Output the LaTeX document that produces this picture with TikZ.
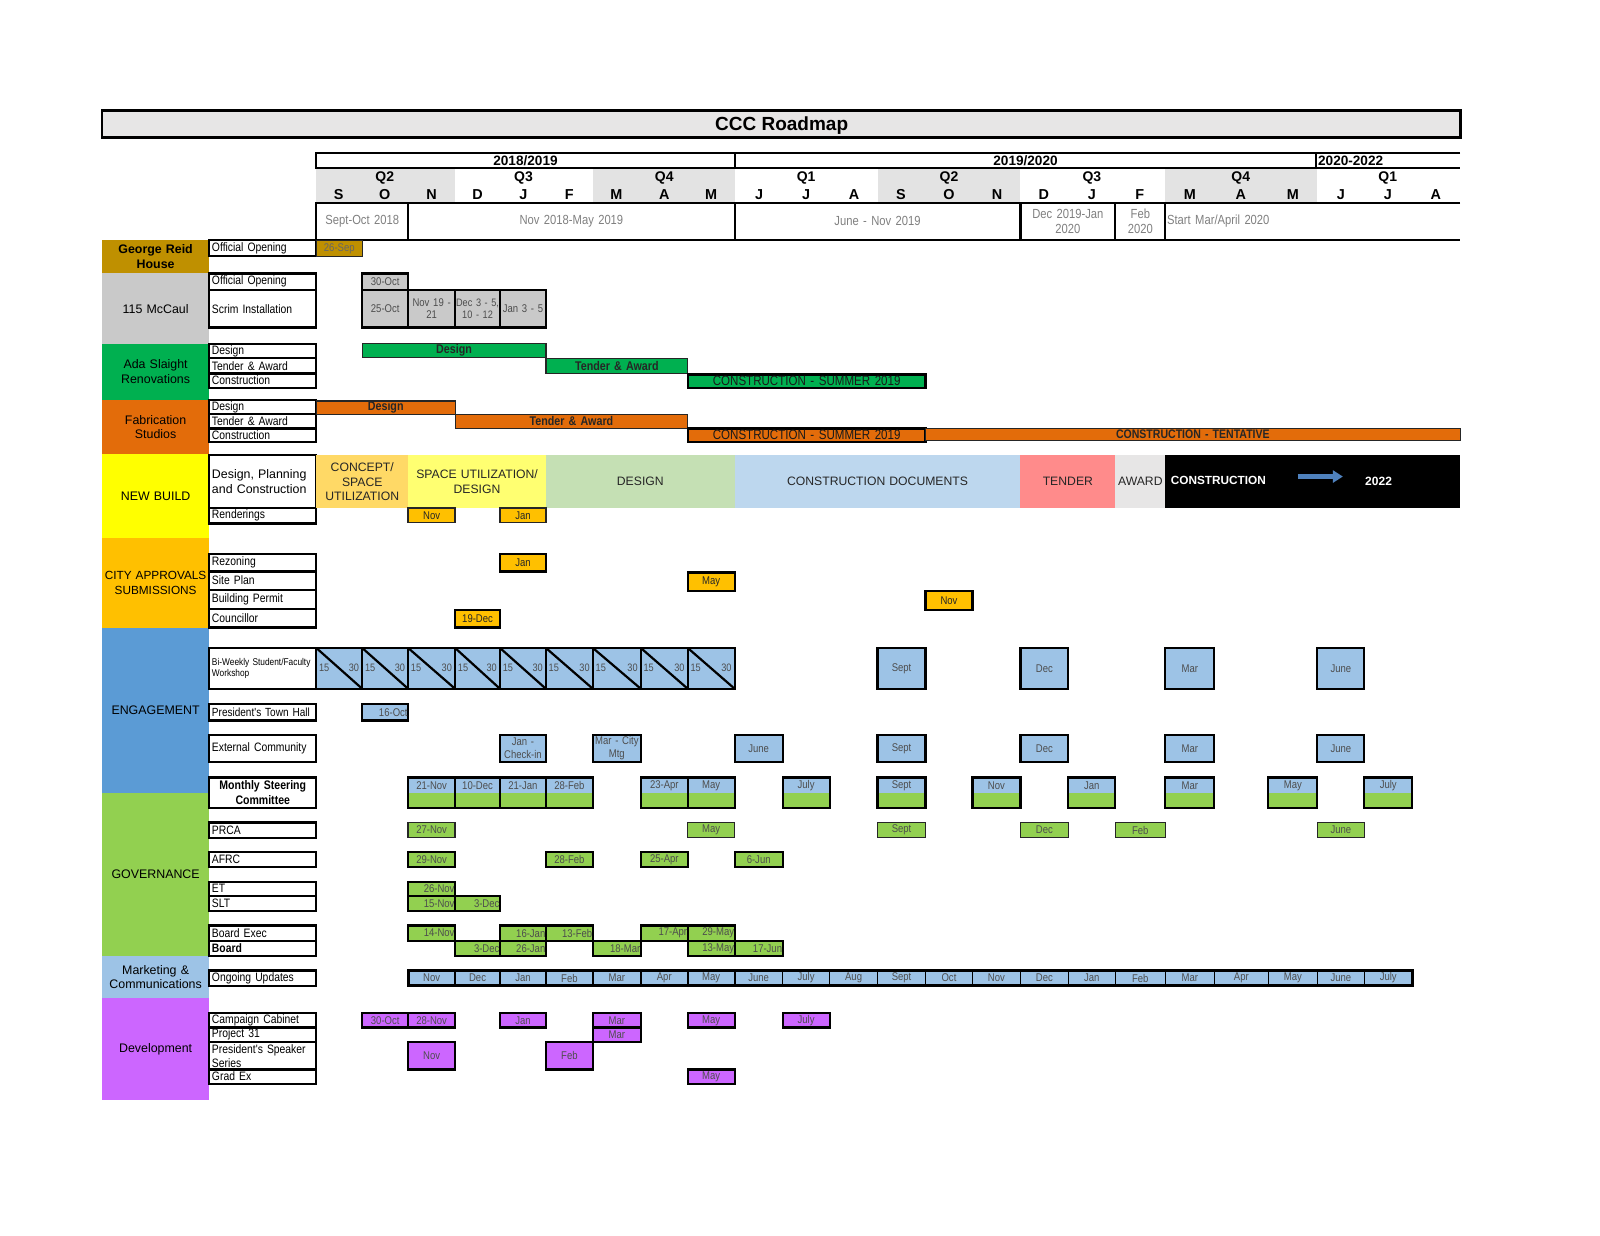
\documentclass[tikz,border=0pt]{standalone}
\usepackage{fontspec}
\setmainfont{Liberation Sans}
\newfontfamily\nar[FakeStretch=0.85]{Liberation Sans}
\usetikzlibrary{calc,arrows.meta}
\definecolor{cGold}{HTML}{BF9000}
\definecolor{cMc}{HTML}{C9C9C9}
\definecolor{cAda}{HTML}{00B050}
\definecolor{cFab}{HTML}{E36C0A}
\definecolor{cNew}{HTML}{FFFF00}
\definecolor{cCity}{HTML}{FFC000}
\definecolor{cEng}{HTML}{5B9BD5}
\definecolor{cGov}{HTML}{92D050}
\definecolor{cMkt}{HTML}{9DC3E6}
\definecolor{cDev}{HTML}{CC66FF}
\definecolor{evBlue}{HTML}{9DC3E6}
\definecolor{hdrGray}{HTML}{E7E6E6}
\definecolor{qGray}{HTML}{E3E3E3}
\definecolor{pConcept}{HTML}{FFD966}
\definecolor{pSpace}{HTML}{FFFF71}
\definecolor{pDesign}{HTML}{C5E0B4}
\definecolor{pDocs}{HTML}{BDD7EE}
\definecolor{pTender}{HTML}{FF8B8B}
\definecolor{pAward}{HTML}{E7E6E6}
\definecolor{arrBlue}{HTML}{4F81BD}
\definecolor{txtGray}{HTML}{4D4D4D}
\definecolor{phGray}{HTML}{808080}
\newcommand\cell[8][center]{%
  \pgfmathsetlengthmacro\cellW{(#4-#3)*0.5102pt}%
  \pgfmathsetlengthmacro\cellH{(#6-#5)*0.5102pt}%
  \pgfmathsetlengthmacro\cellT{(#4-#3)*0.5102pt-0.6pt}%
  \node[cb,anchor=north west,minimum width=\cellW,minimum height=\cellH,text width=\cellT,align=#1,#7] (#2) at (#3,#5) {#8};}
\newcommand\lab[5]{%
  \pgfmathsetlengthmacro\cellH{(#3-#2)*0.5102pt}%
  \node[lbl,anchor=north west,inner xsep=1.4pt,inner ysep=0pt,outer sep=0pt,minimum width=53.57pt,minimum height=\cellH,text width=50.77pt,align=left,#4] (#1) at (205,#2) {#5};}
\begin{document}
\begin{tikzpicture}[x=0.5102pt,y=-0.5102pt,
  cb/.style={inner xsep=0.3pt,inner ysep=0pt,outer sep=0pt},
  cat/.style={font=\fontsize{6.2}{7.4}\selectfont,text=black},
  lbl/.style={draw,line width=1.1pt,fill=white,font=\nar\fontsize{6.1}{7}\selectfont},
  ev/.style={draw,line width=1.1pt,text=txtGray,font=\nar\fontsize{5.6}{6.4}\selectfont},
  evt/.style={draw=black!85,line width=0.5pt,text=txtGray,font=\nar\fontsize{5.6}{6.4}\selectfont},
  evtxt/.style={text=txtGray,font=\nar\fontsize{5.6}{6.4}\selectfont,inner sep=0pt},
  bar/.style={draw=black!85,line width=0.6pt,text=black!85,font=\nar\bfseries\fontsize{6.3}{7}\selectfont},
  cons/.style={draw,line width=1.1pt,text=black!90,font=\nar\fontsize{6.8}{7.5}\selectfont},
  nb/.style={text=black!85,font=\fontsize{6.1}{7.3}\selectfont},
  hdr/.style={font=\bfseries\fontsize{7}{8}\selectfont,inner sep=0pt},
  yr/.style={draw,line width=1.1pt,font=\bfseries\fontsize{6.8}{8}\selectfont},
  ph/.style={draw,line width=1.1pt,text=phGray,font=\nar\fontsize{6.6}{7.6}\selectfont},
  steer/.style={ev,fill=cGov,path picture={\fill[evBlue] (path picture bounding box.north west) rectangle (path picture bounding box.east);}},
  wstxt/.style={text=txtGray,font=\nar\fontsize{5.4}{6}\selectfont,inner sep=0pt}
]
\fill[white] (0,0) rectangle (1568,1211);
\useasboundingbox (0,0) rectangle (1568,1211);

% ---------- title ----------
\cell{title}{100}{1431}{108}{135}{draw,line width=1.3pt,fill=hdrGray}{}
\node[font=\bfseries\fontsize{9.5}{11}\selectfont,inner sep=0pt] (titleT) at (766,123) {CCC Roadmap};

% ---------- quarter bands ----------
\cell{qb1}{310}{446}{165}{199}{fill=qGray}{}
\cell{qb2}{581}{720}{165}{199}{fill=qGray}{}
\cell{qb3}{860}{1000}{165}{199}{fill=qGray}{}
\cell{qb4}{1142}{1291}{165}{199}{fill=qGray}{}

% ---------- year row ----------
\cell{yr1}{310}{720}{150}{165}{yr}{2018/2019}
\cell{yr2}{720}{1290}{150}{165}{yr}{2019/2020}
\cell[left]{yr3}{1290}{1431}{150}{165}{yr,draw=none}{\hspace*{0.6pt}2020-2022}
\draw[line width=1.1pt] (yr3.north east) -- (yr3.north west) -- (yr3.south west) -- (yr3.south east);

% ---------- quarters and months ----------
\foreach \xq/\qq [count=\i] in {377/Q2,513/Q3,651/Q4,790/Q1,930/Q2,1070/Q3,1216/Q4,1360/Q1}{
  \node[hdr] (q\i) at (\xq,174) {\qq};
}
\foreach \xm/\mm [count=\i] in {332/S,377/O,423/N,468/D,513/J,558/F,604/M,651/A,697/M,744/J,790/J,837/A,883/S,930/O,977/N,1023/D,1070/J,1117/F,1166/M,1216/A,1267/M,1314/J,1360/J,1407/A}{
  \node[hdr,font=\bfseries\fontsize{7.2}{8}\selectfont] (m\i) at (\xm,191) {\mm};
}

% ---------- phase row ----------
\cell{ph1}{310}{400}{199}{235}{ph}{Sept-Oct 2018}
\cell{ph2}{400}{720}{199}{235}{ph}{Nov 2018-May 2019}
\cell{ph3}{720}{1000}{199}{235}{ph}{June - Nov 2019}
\cell{ph4}{1000}{1093}{199}{235}{ph}{Dec 2019-Jan\\2020}
\cell{ph5}{1093}{1142}{199}{235}{ph}{Feb\\2020}
\cell[left]{ph6}{1142}{1431}{199}{235}{ph,draw=none}{\hspace*{0.6pt}Start Mar/April 2020}
\draw[line width=1.1pt] (ph6.north east) -- (ph6.north west) -- (ph6.south west) -- (ph6.south east);

% ---------- categories ----------
\cell{catGR}{100}{205}{235}{268}{cat,fill=cGold,font=\bfseries\fontsize{6.2}{7.4}\selectfont}{George Reid\\House}
\cell{catMc}{100}{205}{268}{337}{cat,fill=cMc}{115 McCaul}
\cell{catAda}{100}{205}{337}{392}{cat,fill=cAda}{Ada Slaight\\Renovations}
\cell{catFab}{100}{205}{392}{445}{cat,fill=cFab}{Fabrication\\Studios}
\cell{catNew}{100}{205}{445}{527}{cat,fill=cNew}{NEW BUILD}
\cell{catCity}{100}{205}{527}{615}{cat,fill=cCity,font=\fontsize{5.9}{7.3}\selectfont}{CITY APPROVALS\\SUBMISSIONS}
\cell{catEng}{100}{205}{615}{777}{cat,fill=cEng}{ENGAGEMENT}
\cell{catGov}{100}{205}{777}{937}{cat,fill=cGov}{GOVERNANCE}
\cell{catMkt}{100}{205}{937}{978}{cat,fill=cMkt}{Marketing \&\\Communications}
\cell{catDev}{100}{205}{978}{1078}{cat,fill=cDev}{Development}

% ---------- row labels ----------
\lab{lGR}{235}{251}{}{Official Opening}
\lab{lMc1}{268}{284}{}{Official Opening}
\lab{lMc2}{284}{321}{}{Scrim Installation}
\lab{lAda1}{337}{351}{}{Design}
\lab{lAda2}{351}{366}{}{Tender \& Award}
\lab{lAda3}{366}{380}{}{Construction}
\lab{lFab1}{392}{406}{}{Design}
\lab{lFab2}{406}{420}{}{Tender \& Award}
\lab{lFab3}{420}{433}{}{Construction}
\lab{lNew1}{446}{498}{font=\fontsize{6.2}{7.6}\selectfont}{Design, Planning\\and Construction}
\lab{lNew2}{498}{513}{}{Renderings}
\lab{lC1}{543}{560}{}{Rezoning}
\lab{lC2}{560}{578}{}{Site Plan}
\lab{lC3}{578}{597}{}{Building Permit}
\lab{lC4}{597}{615}{}{Councillor}
\lab{lE1}{635}{675}{font=\nar\fontsize{4.9}{5.8}\selectfont}{Bi-Weekly Student/Faculty\\Workshop}
\lab{lE2}{690}{706}{font=\nar\fontsize{5.9}{7}\selectfont}{President's Town Hall}
\lab{lE3}{720}{747}{}{External Community}
\lab{lE4}{762}{792}{align=center,font=\nar\bfseries\fontsize{6.2}{7.6}\selectfont}{Monthly Steering\\Committee}
\lab{lG1}{806}{821}{}{PRCA}
\lab{lG2}{835}{850}{}{AFRC}
\lab{lG3}{864}{878}{}{ET}
\lab{lG4}{878}{893}{}{SLT}
\lab{lG5}{907}{922}{}{Board Exec}
\lab{lG6}{922}{937}{font=\nar\bfseries\fontsize{6.1}{7}\selectfont}{Board}
\lab{lM1}{951}{966}{}{Ongoing Updates}
\lab{lD1}{993}{1007}{}{Campaign Cabinet}
\lab{lD2}{1007}{1021}{}{Project 31}
\lab{lD3}{1021}{1048}{}{President's Speaker\\Series}
\lab{lD4}{1048}{1062}{}{Grad Ex}

% ---------- George Reid / McCaul ----------
\cell{eGR}{310}{355}{236}{251}{evt,fill=cGold,text=black!60}{26-Sep}
\cell{eMc1}{355}{400}{268}{284}{ev,fill=cMc}{30-Oct}
\cell{eMc2}{355}{400}{284}{321}{ev,fill=cMc}{25-Oct}
\cell{eMc3}{400}{446}{284}{321}{ev,fill=cMc}{Nov 19 -\\21}
\cell{eMc4}{446}{490}{284}{321}{ev,fill=cMc,font=\nar\fontsize{5.4}{6.4}\selectfont}{\mbox{Dec 3 - 5,}\\10 - 12}
\cell{eMc5}{490}{535}{284}{321}{ev,fill=cMc}{Jan 3 - 5}

% ---------- Ada Slaight ----------
\cell{aD}{355}{535}{337}{350}{bar,fill=cAda}{Design}
\cell{aT}{535}{674}{351}{366}{bar,fill=cAda}{Tender \& Award}
\cell{aC}{674}{907}{367}{380}{cons,fill=cAda}{CONSTRUCTION - SUMMER 2019}

% ---------- Fabrication ----------
\cell{fD}{310}{446}{393}{406}{bar,fill=cFab}{Design}
\cell{fT}{446}{674}{406}{420}{bar,fill=cFab}{Tender \& Award}
\cell{fC}{674}{907}{420}{433}{cons,fill=cFab}{CONSTRUCTION - SUMMER 2019}
\cell{fCT}{907}{1431}{420}{432}{bar,fill=cFab,font=\nar\bfseries\fontsize{6.2}{7}\selectfont}{CONSTRUCTION - TENTATIVE}

% ---------- New Build ----------
\cell{nb1}{310}{400}{446}{498}{nb,fill=pConcept}{CONCEPT/\\SPACE\\UTILIZATION}
\cell{nb2}{400}{535}{446}{498}{nb,fill=pSpace}{SPACE UTILIZATION/\\DESIGN}
\cell{nb3}{535}{720}{446}{498}{nb,fill=pDesign}{DESIGN}
\cell{nb4}{720}{1000}{446}{498}{nb,fill=pDocs}{CONSTRUCTION DOCUMENTS}
\cell{nb5}{1000}{1093}{446}{498}{nb,fill=pTender}{TENDER}
\cell{nb6}{1093}{1142}{446}{498}{nb,fill=pAward}{AWARD}
\cell{nb7}{1142}{1431}{446}{498}{fill=black}{}
\node[font=\bfseries\fontsize{5.9}{7}\selectfont,text=white,anchor=west,inner sep=0pt] (nbC) at (1147,471) {CONSTRUCTION};
\node[font=\bfseries\fontsize{6}{7}\selectfont,text=white,inner sep=0pt] (nb22) at (1351,472) {2022};
\coordinate (arA) at (1272,467);
\coordinate (arB) at (1316,467);
\draw[arrBlue,line width=2.2pt,-{Triangle[length=5pt,width=6pt]}] (arA) -- (arB);
\cell{rN}{400}{446}{498}{512}{evt,fill=cCity,text=black!85,line width=0.7pt}{Nov}
\cell{rJ}{490}{535}{498}{512}{evt,fill=cCity,text=black!85,line width=0.7pt}{Jan}

% ---------- City approvals ----------
\cell{cJ}{490}{535}{543}{560}{ev,fill=cCity,text=black!85}{Jan}
\cell{cM}{674}{720}{561}{579}{ev,fill=cCity,text=black!85}{May}
\cell{cN}{907}{953}{579}{598}{ev,fill=cCity,text=black!85}{Nov}
\cell{cD}{446}{490}{598}{615}{ev,fill=cCity,text=black!85}{19-Dec}

% ---------- Engagement ----------
\foreach \xa/\xb [count=\i] in {310/355,355/400,400/446,446/490,490/535,535/581,581/628,628/674,674/720}{
  \cell{ws\i}{\xa}{\xb}{635}{675}{ev,fill=evBlue}{}
  \draw[line width=1.1pt] (ws\i.north west) -- (ws\i.south east);
  \node[wstxt,anchor=west] (wsa\i) at ([xshift=1.2pt,yshift=0.5pt]ws\i.west) {15};
  \node[wstxt,anchor=east] (wsb\i) at ([xshift=-1.4pt,yshift=0.5pt]ws\i.east) {30};
}
\cell{eW1}{860}{907}{635}{675}{ev,fill=evBlue}{Sept}
\cell{eW2}{1000}{1047}{635}{675}{ev,fill=evBlue}{Dec}
\cell{eW3}{1142}{1190}{635}{675}{ev,fill=evBlue}{Mar}
\cell{eW4}{1291}{1337}{635}{675}{ev,fill=evBlue}{June}
\cell[right]{eTH}{355}{400}{690}{706}{ev,fill=evBlue}{16-Oct}
\cell{eX1}{490}{535}{720}{747}{ev,fill=evBlue}{Jan -\\Check-in}
\cell{eX2}{581}{628}{720}{747}{ev,fill=evBlue}{Mar - City\\Mtg}
\cell{eX3}{720}{767}{720}{747}{ev,fill=evBlue}{June}
\cell{eX4}{860}{907}{720}{747}{ev,fill=evBlue}{Sept}
\cell{eX5}{1000}{1047}{720}{747}{ev,fill=evBlue}{Dec}
\cell{eX6}{1142}{1190}{720}{747}{ev,fill=evBlue}{Mar}
\cell{eX7}{1291}{1337}{720}{747}{ev,fill=evBlue}{June}
\foreach \xa/\xb/\tx [count=\i] in {400/446/21-Nov,446/490/10-Dec,490/535/21-Jan,535/581/28-Feb,628/674/23-Apr,674/720/May,767/813/July,860/907/Sept,953/1000/Nov,1047/1093/Jan,1142/1190/Mar,1243/1291/May,1337/1384/July}{
  \cell{ms\i}{\xa}{\xb}{762}{792}{steer}{}
  \node[evtxt] (mst\i) at ($(ms\i.north)!0.27!(ms\i.south)$) {\tx};
}

% ---------- Governance ----------
\foreach \xa/\xb/\tx [count=\i] in {400/446/27-Nov,674/720/May,860/907/Sept,1000/1047/Dec,1093/1142/Feb,1291/1337/June}{
  \cell{pr\i}{\xa}{\xb}{806}{821}{evt,fill=cGov,line width=0.7pt}{\tx}
}
\foreach \xa/\xb/\tx [count=\i] in {400/446/29-Nov,535/581/28-Feb,628/674/25-Apr,720/767/6-Jun}{
  \cell{af\i}{\xa}{\xb}{835}{850}{ev,fill=cGov}{\tx}
}
\cell[right]{et1}{400}{446}{864}{878}{ev,fill=cGov}{26-Nov}
\cell[right]{sl1}{400}{446}{878}{893}{ev,fill=cGov}{15-Nov}
\cell[right]{sl2}{446}{490}{878}{893}{ev,fill=cGov}{3-Dec}
\foreach \xa/\xb/\tx [count=\i] in {400/446/14-Nov,490/535/16-Jan,535/581/13-Feb,628/674/17-Apr,674/720/29-May}{
  \cell[right]{be\i}{\xa}{\xb}{907}{922}{ev,fill=cGov}{\tx}
}
\foreach \xa/\xb/\tx [count=\i] in {446/490/3-Dec,490/535/26-Jan,581/628/18-Mar,674/720/13-May,720/767/17-Jun}{
  \cell[right]{bo\i}{\xa}{\xb}{922}{937}{ev,fill=cGov}{\tx}
}

% ---------- Marketing ----------
\foreach \xa/\xb/\tx [count=\i] in {400/446/Nov,446/490/Dec,490/535/Jan,535/581/Feb,581/628/Mar,628/674/Apr,674/720/May,720/767/June,767/813/July,813/860/Aug,860/907/Sept,907/953/Oct,953/1000/Nov,1000/1047/Dec,1047/1093/Jan,1093/1142/Feb,1142/1190/Mar,1190/1243/Apr,1243/1291/May,1291/1337/June,1337/1384/July}{
  \cell{ou\i}{\xa}{\xb}{951}{966}{ev,fill=evBlue,line width=0.8pt}{\tx}
}
\draw[line width=1.4pt] (ou1.north west) rectangle (ou21.south east);

% ---------- Development ----------
\foreach \xa/\xb/\tx [count=\i] in {355/400/30-Oct,400/446/28-Nov,490/535/Jan,581/628/Mar,674/720/May,767/813/July}{
  \cell{cc\i}{\xa}{\xb}{993}{1007}{ev,fill=cDev}{\tx}
}
\cell{pj1}{581}{628}{1007}{1021}{ev,fill=cDev}{Mar}
\cell{ps1}{400}{446}{1021}{1048}{ev,fill=cDev}{Nov}
\cell{ps2}{535}{581}{1021}{1048}{ev,fill=cDev}{Feb}
\cell{ge1}{674}{720}{1048}{1062}{ev,fill=cDev}{May}
\end{tikzpicture}
\end{document}
